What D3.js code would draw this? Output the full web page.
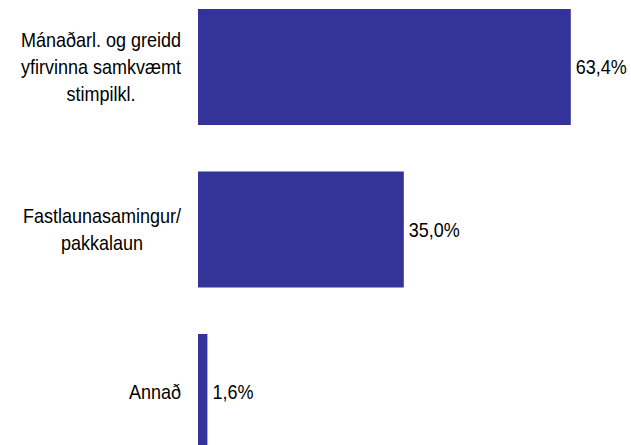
<!DOCTYPE html>
<html>
<head>
<meta charset="utf-8">
<script src="https://cdn.jsdelivr.net/npm/d3@7"></script>
<style>
  body { margin: 0; background: #fff; }
  svg { display: block; }
  text { font-family: "Liberation Sans", Arial, sans-serif; fill: #000; }
</style>
</head>
<body>
<svg width="631" height="445"></svg>
<script>
// data
var categories = [
  ['Mánaðarl. og greidd', 'yfirvinna samkvæmt', 'stimpilkl.'],
  ['Fastlaunasamingur/', 'pakkalaun'],
  ['Annað']
];
var values = [63.4, 35.0, 1.6];
var valueLabels = ['63,4%', '35,0%', '1,6%'];

var svg, width, height;

document.addEventListener('DOMContentLoaded', function () {
  svg = d3.select('svg');
  width = +svg.attr('width');
  height = +svg.attr('height');
  drawBars();
});

function drawBars() {
  var idx = d3.range(values.length);
  var xScale = d3.scaleLinear().domain([0, 100]).range([198, 786]);
  var yScale = d3.scaleBand().domain(idx).range([9, 450])
    .paddingInner(0.286).paddingOuter(0);
  var fontSize = 20, lineH = 27, sx = 0.9; // narrow-ish font look

  var g = svg.append('g');

  g.selectAll('.bar')
    .data(idx)
    .enter()
    .append('rect')
    .attr('class', 'bar')
    .attr('x', xScale(0))
    .attr('y', d => yScale(d))
    .attr('width', d => xScale(values[d]) - xScale(0))
    .attr('height', yScale.bandwidth())
    .attr('fill', '#333399');

  // value labels
  g.selectAll('.val')
    .data(idx)
    .enter()
    .append('text')
    .attr('class', 'val')
    .attr('transform', d => 'translate(' + (xScale(values[d]) + 5) + ',' +
      (yScale(d) + yScale.bandwidth() / 2) + ') scale(' + sx + ',1)')
    .attr('dy', '0.35em')
    .style('font-size', fontSize + 'px')
    .text(d => valueLabels[d]);

  // category labels: lines centred in a block whose right edge sits left of the bars
  var rightEdge = xScale(0) - 17;
  idx.forEach(function (d) {
    var lines = categories[d];
    var cy = yScale(d) + yScale.bandwidth() / 2;
    var t = g.append('text')
      .style('font-size', fontSize + 'px')
      .attr('text-anchor', 'middle');
    var spans = t.selectAll('tspan')
      .data(lines)
      .enter()
      .append('tspan')
      .attr('x', 0)
      .attr('y', (l, i) => (i - (lines.length - 1) / 2) * lineH)
      .attr('dy', '0.35em')
      .text(l => l);
    var maxW = 0;
    spans.each(function () { maxW = Math.max(maxW, this.getComputedTextLength()); });
    t.attr('transform', 'translate(' + (rightEdge - maxW * sx / 2) + ',' + cy + ') scale(' + sx + ',1)');
  });
}
</script>
</body>
</html>
